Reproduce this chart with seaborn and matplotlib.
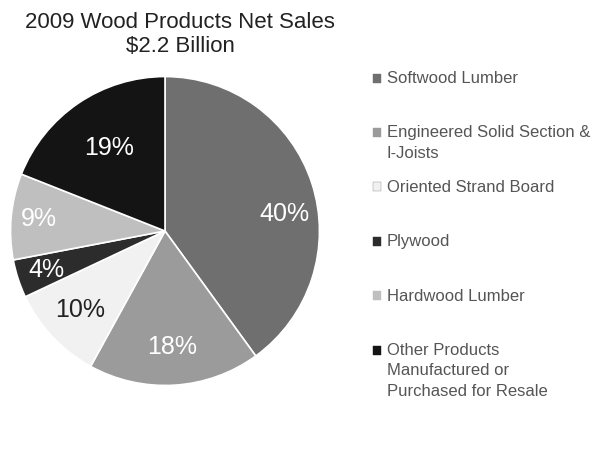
import matplotlib
matplotlib.use("Agg")
import matplotlib.pyplot as plt
from matplotlib.patches import Rectangle
import seaborn as sns
import numpy as np

# ---- data ----
categories = [
    "Softwood Lumber",
    "Engineered Solid Section &\nI-Joists",
    "Oriented Strand Board",
    "Plywood",
    "Hardwood Lumber",
    "Other Products\nManufactured or\nPurchased for Resale",
]
shares = [40, 18, 10, 4, 9, 19]
colors = ["#6f6f6f", "#9b9b9b", "#f1f1f1", "#2c2c2c", "#bfbfbf", "#141414"]
label_colors = ["white", "white", "#222222", "white", "white", "white"]
title_lines = ["2009 Wood Products Net Sales", "$2.2 Billion"]

# label placement (fraction of radius, angle offset in degrees)
label_dist = [0.78, 0.75, 0.75, 0.81, 0.82, 0.65]
label_angle_off = [-10, 0, 0, 0, 0, 0]

sns.set_theme(style="white")
plt.rcParams["font.family"] = ["Liberation Sans", "DejaVu Sans"]

W, H = 603, 471
fig = plt.figure(figsize=(W / 100, H / 100), dpi=100)
fig.patch.set_facecolor("white")

cx, cy, r = 165, 231, 156
ax = fig.add_axes([(cx - r) / W, (H - cy - r) / H, 2 * r / W, 2 * r / H])
wedges, _, autotexts = ax.pie(
    shares,
    colors=colors,
    startangle=90,
    counterclock=False,
    autopct=lambda p: f"{p:.0f}%",
    pctdistance=0.75,
    wedgeprops=dict(edgecolor="white", linewidth=1.2),
    textprops=dict(fontsize=18),
)
ax.set_xlim(-1.01, 1.01)
ax.set_ylim(-1.01, 1.01)
ax.set_aspect("equal")
ax.set_axis_off()

for w, t, d, off, lc in zip(wedges, autotexts, label_dist, label_angle_off, label_colors):
    mid = np.deg2rad((w.theta1 + w.theta2) / 2 + off)
    t.set_position((d * np.cos(mid), d * np.sin(mid)))
    t.set_color(lc)
    t.set_fontsize(18)

# title
fig.text(180 / W, 1 - 12 / H, "\n".join(title_lines), ha="center", va="top",
         fontsize=16, color="#222222")

# legend (manual, first line aligned with swatch)
y0, step = 78, 54.4
for i, (cat, col) in enumerate(zip(categories, colors)):
    yc = y0 + i * step
    fig.patches.append(Rectangle((373 / W, 1 - (yc + 4.5) / H), 8 / W, 9 / H,
                                 transform=fig.transFigure, facecolor=col,
                                 edgecolor="#888888" if col == "#f1f1f1" else col,
                                 linewidth=0.3))
    fig.text(387 / W, 1 - (yc - 7) / H, cat, ha="left", va="top",
             fontsize=12, color="#555555", linespacing=1.45)

fig.savefig("out.png", dpi=100, facecolor="white")
